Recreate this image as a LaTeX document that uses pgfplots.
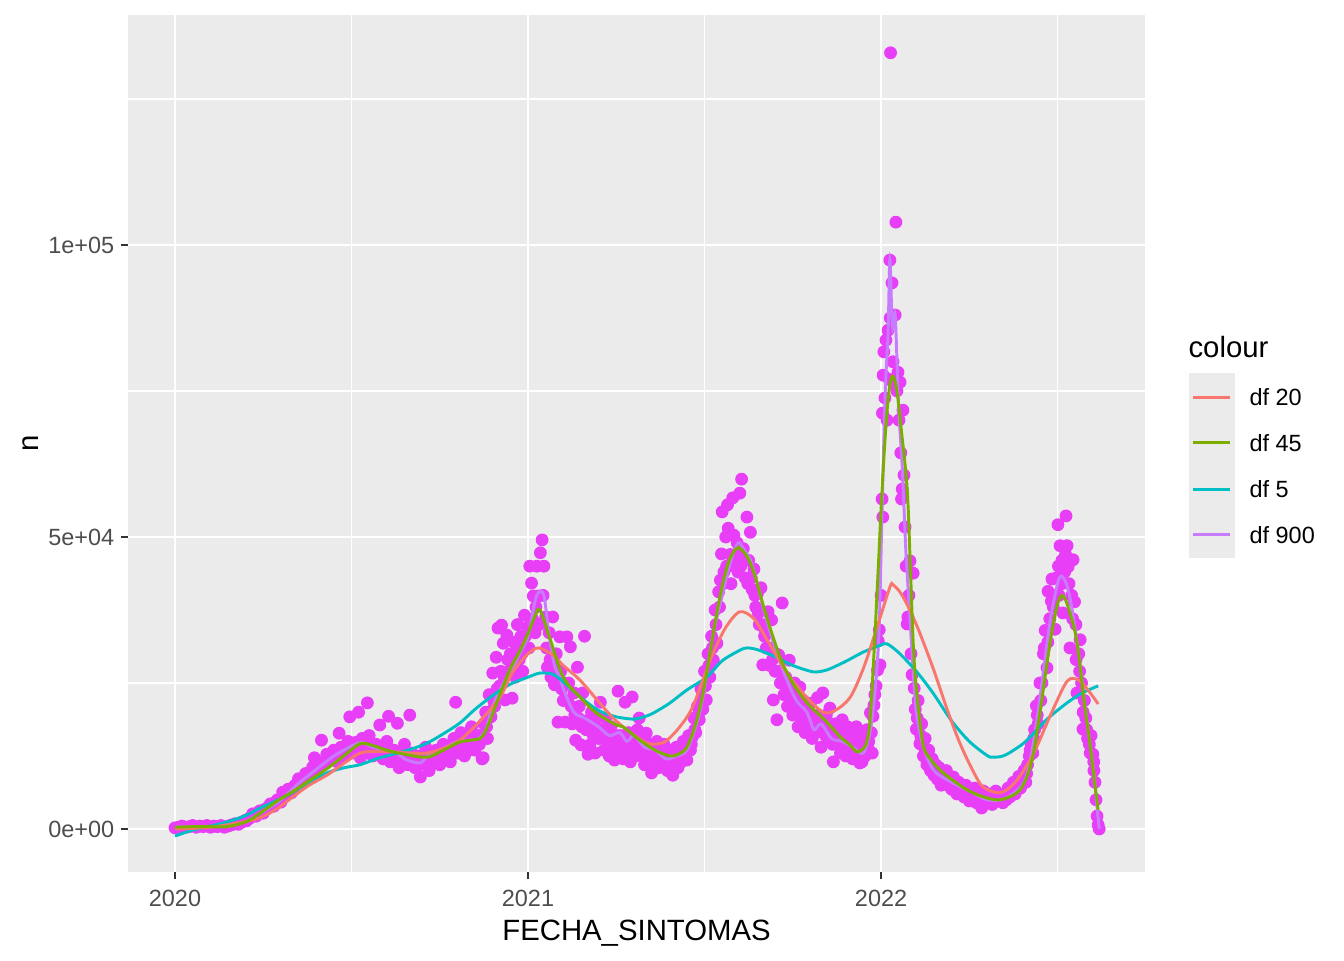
\documentclass[border=0pt]{standalone}
\usepackage{pgfplots}
\usepackage{pgfplotstable}
\pgfplotsset{compat=1.18}
\usepackage{fontspec}
\setmainfont{Liberation Sans}
\definecolor{panelbg}{HTML}{EBEBEB}
\definecolor{ticklab}{HTML}{4D4D4D}
\definecolor{tickcol}{HTML}{333333}
\definecolor{ptcol}{RGB}{232,62,247}
\definecolor{cRed}{HTML}{F8766D}
\definecolor{cGreen}{HTML}{7CAE00}
\definecolor{cTeal}{HTML}{00BFC4}
\definecolor{cPurple}{HTML}{C77CFF}
\pgfplotstableread{
t n
0 200
0.01 300
0.02 500
0.03 300
0.04 400
0.05 600
0.06 300
0.07 500
0.08 400
0.09 600
0.10 300
0.11 500
0.12 400
0.13 600
0.14 300
0.15 500
0.16 700
0.17 900
0.18 800
0.19 1200
0.20 1500
0.21 1800
0.22 2600
0.23 2200
0.24 3100
0.25 2700
0.26 3500
0.27 4300
0.28 3900
0.29 5000
0.30 4600
0.305 6300
0.31 5600
0.32 6800
0.33 6200
0.34 7500
0.35 8600
0.36 7900
0.37 9500
0.38 9000
0.39 10600
0.395 12200
0.40 10000
0.41 11500
0.415 15200
0.42 11000
0.43 12800
0.44 12000
0.45 13500
0.46 11500
0.465 16400
0.47 14000
0.48 12500
0.49 15000
0.495 19200
0.50 13000
0.51 14800
0.52 20000
0.525 12200
0.53 15500
0.54 13000
0.545 21600
0.55 16000
0.56 12500
0.57 14500
0.58 17800
0.59 12000
0.60 15000
0.605 19300
0.61 11500
0.62 13500
0.63 18100
0.635 10500
0.64 12500
0.65 14500
0.66 11000
0.665 19500
0.67 13000
0.68 10500
0.69 12500
0.695 8900
0.70 11500
0.71 14000
0.72 10000
0.73 12000
0.74 13500
0.75 11000
0.76 14500
0.77 12500
0.78 11500
0.79 15500
0.795 21700
0.80 13000
0.81 16500
0.82 12500
0.83 15000
0.84 17500
0.85 13500
0.86 16000
0.87 12000
0.873 12200
0.875 18000
0.88 20000
0.885 15500
0.89 23000
0.895 19200
0.90 26700
0.905 21000
0.91 29400
0.915 34400
0.92 24500
0.925 34900
0.93 31800
0.935 22100
0.94 33200
0.945 27000
0.95 30000
0.955 22400
0.96 32000
0.965 26000
0.97 35000
0.975 29000
0.98 33000
0.985 27000
0.99 36600
0.995 31000
1.00 34600
1.005 45000
1.01 42100
1.015 39900
1.02 33600
1.025 45000
1.03 39900
1.035 47300
1.04 49500
1.045 45000
1.05 36300
1.055 27700
1.06 33600
1.065 26000
1.07 36300
1.075 24700
1.08 30000
1.085 18300
1.09 32900
1.095 24000
1.10 22000
1.105 18300
1.11 32900
1.115 25000
1.12 31200
1.125 18000
1.13 23300
1.135 15200
1.14 27700
1.145 21000
1.15 14400
1.155 23300
1.16 33000
1.165 17000
1.17 12800
1.175 14400
1.18 20000
1.185 16000
1.19 13000
1.195 19200
1.20 15500
1.205 21700
1.21 17000
1.215 13500
1.22 19000
1.225 15000
1.23 12500
1.235 17500
1.24 14000
1.245 11800
1.25 16000
1.255 23600
1.26 13000
1.265 15500
1.27 12000
1.275 21700
1.28 13500
1.285 16500
1.29 11500
1.295 22600
1.30 15000
1.305 12500
1.31 17000
1.315 19000
1.32 13000
1.325 15500
1.33 11000
1.335 16400
1.34 12500
1.345 14500
1.35 9600
1.355 14000
1.36 11500
1.365 15000
1.37 10500
1.375 13000
1.38 11000
1.385 14500
1.39 12300
1.395 10000
1.40 13500
1.405 11500
1.41 9200
1.415 12500
1.42 14000
1.425 10500
1.43 13000
1.435 11500
1.44 15000
1.445 12500
1.45 11800
1.455 16000
1.46 13500
1.465 15700
1.47 19000
1.475 16500
1.48 21000
1.485 18700
1.49 24000
1.495 20500
1.50 27000
1.505 22100
1.51 30000
1.515 26000
1.52 33000
1.525 28900
1.53 37500
1.535 31800
1.54 40600
1.545 42600
1.548 47100
1.55 54300
1.555 44000
1.56 50000
1.565 55500
1.567 51500
1.57 45000
1.575 42000
1.58 56700
1.583 50300
1.59 47000
1.595 44000
1.60 57500
1.605 59900
1.61 48000
1.615 43000
1.62 53400
1.625 46000
1.63 50800
1.635 41000
1.64 44500
1.645 38000
1.65 40400
1.655 35000
1.66 41300
1.665 28100
1.67 33000
1.675 31000
1.68 37200
1.685 28000
1.69 35800
1.695 22100
1.70 27000
1.705 18700
1.71 29800
1.715 25000
1.72 38700
1.725 23000
1.73 26000
1.735 21000
1.74 28900
1.745 22500
1.75 19500
1.755 25000
1.76 21000
1.765 17500
1.77 24300
1.775 19000
1.78 22000
1.785 16500
1.79 20500
1.795 17500
1.80 21500
1.805 15500
1.81 19000
1.815 16500
1.82 22500
1.825 18000
1.83 14000
1.835 23300
1.84 17000
1.845 19500
1.85 15000
1.855 20700
1.86 16500
1.865 11500
1.87 18000
1.875 14500
1.88 17000
1.885 13000
1.89 18700
1.895 15500
1.90 12500
1.905 17500
1.91 14000
1.915 16500
1.92 12000
1.925 15000
1.93 17500
1.935 13000
1.94 11300
1.945 16000
1.946 11500
1.95 14000
1.955 12500
1.96 17000
1.963 13700
1.965 15000
1.97 19900
1.975 13000
1.977 19300
1.98 21200
1.986 24500
1.99 27200
1.992 32200
1.995 34100
1.997 28100
2.000 40000
2.003 56500
2.004 71200
2.005 53400
2.006 77700
2.008 81700
2.011 73800
2.014 83700
2.017 70000
2.020 85400
2.023 77000
2.025 97400
2.026 87500
2.027 132900
2.031 93500
2.034 80000
2.037 76000
2.040 88000
2.042 103900
2.045 75000
2.048 78200
2.051 70000
2.054 76500
2.056 64400
2.058 56500
2.060 58200
2.062 71700
2.065 60600
2.068 51700
2.071 45000
2.074 35100
2.076 36300
2.079 40000
2.082 45900
2.085 30000
2.088 26400
2.091 43800
2.094 24100
2.097 20500
2.10 17100
2.105 22000
2.11 14600
2.115 18000
2.12 12500
2.125 15500
2.13 11000
2.135 13500
2.14 10000
2.145 12000
2.15 9200
2.155 11000
2.16 8500
2.165 10500
2.17 7500
2.175 9500
2.18 8000
2.185 10000
2.19 7500
2.195 9000
2.20 6800
2.205 8900
2.21 7500
2.215 6000
2.22 8000
2.225 6500
2.23 7000
2.235 5500
2.24 7500
2.245 6000
2.25 4800
2.255 6500
2.26 5500
2.265 7000
2.27 4500
2.275 6000
2.28 5000
2.285 3600
2.29 6500
2.295 5000
2.30 4500
2.305 6000
2.31 5000
2.315 4200
2.32 5500
2.325 6500
2.33 4800
2.34 5800
2.345 4500
2.35 6000
2.355 5000
2.36 7000
2.365 5500
2.37 6500
2.375 8000
2.38 6000
2.385 7500
2.39 9000
2.395 7000
2.40 8500
2.405 10000
2.41 8000
2.415 11000
2.42 12500
2.425 14600
2.43 13000
2.435 17000
2.44 21100
2.445 18000
2.45 25000
2.456 25000
2.46 30000
2.465 34000
2.47 27600
2.473 40700
2.478 36000
2.484 42800
2.488 38000
2.493 34200
2.497 43000
2.501 52100
2.504 40000
2.507 48500
2.512 42000
2.515 37000
2.52 44000
2.524 53600
2.527 48500
2.53 44900
2.535 31000
2.54 40000
2.544 46100
2.548 38900
2.552 35000
2.555 23300
2.56 30000
2.564 32400
2.568 25000
2.572 17100
2.576 22000
2.58 19000
2.585 15500
2.59 14500
2.595 16000
2.60 12800
2.603 10000
2.606 8000
2.609 5000
2.612 2200
2.615 700
2.618 0
}\pts
\pgfplotstableread{
t n
0.2025 1400
0.2125 1900
0.2225 2300
0.2325 2700
0.2425 3000
0.2525 3300
0.2625 3700
0.2725 4000
0.2825 4500
0.2925 4900
0.3025 5300
0.3125 5900
0.3225 6400
0.3325 7000
0.3425 7400
0.3525 8000
0.3625 8500
0.3725 9000
0.3825 9600
0.3925 10000
0.4025 10500
0.4125 10800
0.4225 11500
0.4325 11800
0.4425 12500
0.4525 12800
0.4625 13500
0.4725 12800
0.4825 14000
0.4925 13500
0.5025 14500
0.5125 13000
0.5225 14000
0.5325 13500
0.5425 14500
0.5525 13000
0.5625 14000
0.5725 13000
0.5825 12500
0.5925 13500
0.6025 12500
0.6125 13000
0.6225 12000
0.6325 13000
0.6425 11500
0.6525 12500
0.6625 12000
0.6725 11500
0.6825 12500
0.6925 11000
0.7025 12500
0.7125 11500
0.7225 13000
0.7325 12500
0.7425 11500
0.7525 13000
0.7625 12000
0.7725 14000
0.7825 13000
0.7925 14000
0.8025 15000
0.8125 14000
0.8225 14500
0.8325 13500
0.8425 15500
0.8525 15000
0.8625 14500
0.8725 16000
0.8825 17500
0.8925 19500
0.9025 22000
0.9125 24000
0.9225 27000
0.9325 26000
0.9425 29000
0.9525 27000
0.9625 29000
0.9725 31000
0.9825 30000
0.9925 33000
1.0025 31000
1.0125 36000
1.0225 38000
1.0325 35000
1.0425 40000
1.0525 31000
1.0625 29000
1.0725 28000
1.0825 26000
1.0925 27000
1.1025 25000
1.1125 22000
1.1225 21000
1.1325 19500
1.1425 19000
1.1525 17500
1.1625 18500
1.1725 17000
1.1825 16500
1.1925 17500
1.2025 16500
1.2125 15500
1.2225 17000
1.2325 15000
1.2425 16000
1.2525 14500
1.2625 16000
1.2725 15000
1.2825 14500
1.2925 16000
1.3025 14000
1.3125 15500
1.3225 14500
1.3325 13500
1.3425 14000
1.3525 12500
1.3625 13000
1.3725 12000
1.3825 12500
1.3925 11500
1.4025 12000
1.4125 11000
1.4225 12000
1.4325 11500
1.4425 13000
1.4525 14000
1.4625 14500
1.4725 17000
1.4825 19500
1.4925 22000
1.5025 24500
1.5125 28000
1.5225 31000
1.5325 35000
1.5425 38000
1.5525 42000
1.5625 45000
1.5725 47000
1.5825 46000
1.5925 49000
1.6025 45000
1.6125 46000
1.6225 42000
1.6325 43000
1.6425 40000
1.6525 37000
1.6625 35000
1.6725 34000
1.6825 31000
1.6925 29000
1.7025 30000
1.7125 27000
1.7225 26000
1.7325 24000
1.7425 24500
1.7525 22500
1.7625 23000
1.7725 21000
1.7825 20000
1.7925 19000
1.8025 18500
1.8125 17500
1.8225 19500
1.8325 17000
1.8425 16000
1.8525 17500
1.8625 14500
1.8725 16000
1.8825 15000
1.8925 16500
1.9025 14500
1.9125 13500
1.9225 14500
1.9325 15500
1.9425 13500
1.9525 15500
1.9625 14500
1.9725 16500
1.9825 23000
2.1025 19000
2.1125 16000
2.1225 14000
2.1325 12500
2.1425 11500
2.1525 10500
2.1625 9500
2.1725 9000
2.1825 8500
2.1925 8500
2.2025 7800
2.2125 7000
2.2225 7200
2.2325 6500
2.2425 6800
2.2525 6000
2.2625 6200
2.2725 5500
2.2825 5800
2.2925 5200
2.3025 5400
2.3125 5000
2.3225 5200
2.3325 5500
2.3425 5000
2.3525 5500
2.3625 6000
2.3725 6500
2.3825 7000
2.3925 8000
2.4025 9000
2.4125 9500
2.4225 13500
2.4325 15500
2.4425 19500
2.4525 22000
2.4625 31000
2.4725 32000
2.4825 39000
2.4925 40000
2.5025 45000
2.5125 46000
2.5225 47000
2.5325 42000
2.5425 36000
2.5525 29000
2.5625 27000
2.5725 20000
2.5825 17000
2.5925 13000
2.6025 11500
}\ptsb
\begin{document}
\begin{tikzpicture}
\useasboundingbox (0,0) rectangle (504pt,360pt);
\begin{axis}[
  at={(48pt,33pt)}, anchor=south west,
  width=381.4pt, height=321.4pt, scale only axis,
  xmin=-0.1331, xmax=2.7479, ymin=-7363, ymax=139381,
  axis background/.style={fill=panelbg},
  axis line style={draw=none},
  grid=both,
  major grid style={white, line width=1.07pt},
  minor grid style={white, line width=0.53pt},
  xtick={0,1,2}, minor xtick={0.5,1.5,2.5},
  ytick={0,50000,100000}, minor ytick={25000,75000,125000},
  xticklabels={}, yticklabels={},
  scaled y ticks=false, scaled x ticks=false,
  tick pos=left, tick align=outside,
  major tick length=2.75pt, minor tick length=0pt,
  tick style={color=tickcol, line width=1.07pt},
  clip=true, clip marker paths=true,
]
\addplot[only marks, mark=*, color=ptcol, mark size=2.2pt] table[x=t, y=n] {\pts};
\addplot[only marks, mark=*, color=ptcol, mark size=2.2pt] table[x=t, y=n] {\ptsb};
\addplot[cPurple, line width=1.1pt, smooth, tension=0.5] coordinates {
(0,300) (0.1,400) (0.15,500) (0.2,1300) (0.25,3000) (0.3,5000) (0.35,7800) (0.4,10200) (0.45,12500) (0.5,14200) (0.53,14800) (0.56,14000) (0.6,13400) (0.63,13000) (0.65,12000) (0.694,11300) (0.72,12800) (0.76,13800) (0.8,15000) (0.83,15200) (0.86,15500) (0.88,17000) (0.9,21000) (0.93,25000) (0.96,28000) (0.98,30500) (1.0,33000) (1.02,39000) (1.03,40500) (1.045,40000) (1.06,33000) (1.075,28000) (1.09,26000) (1.1,24000) (1.13,20000) (1.16,19000) (1.2,17500) (1.23,16000) (1.26,16500) (1.28,15000) (1.3,16000) (1.33,14000) (1.36,13500) (1.39,12000) (1.42,12500) (1.45,13500) (1.48,18500) (1.5,24000) (1.52,32000) (1.55,40000) (1.575,46000) (1.595,49000) (1.61,48000) (1.63,46000) (1.65,42000) (1.67,37000) (1.7,31000) (1.73,26000) (1.76,22000) (1.79,20000) (1.81,17000) (1.83,18000) (1.86,15500) (1.89,15000) (1.92,14000) (1.95,13000) (1.97,17000) (1.985,25000) (1.995,35000) (2.003,55000) (2.012,75000) (2.02,85000) (2.025,97500) (2.032,86000) (2.04,88000) (2.05,72000) (2.06,62000) (2.07,48000) (2.08,38000) (2.09,28000) (2.1,20000) (2.12,14000) (2.15,10000) (2.2,8000) (2.25,6500) (2.3,5000) (2.35,5200) (2.4,7500) (2.42,11000) (2.44,18000) (2.46,27000) (2.48,36000) (2.5,42000) (2.51,43300) (2.525,42000) (2.54,38000) (2.56,30000) (2.58,20000) (2.6,11000) (2.61,5000) (2.618,0)
};
\addplot[cTeal, line width=1.1pt, smooth] coordinates {
(0,-1200) (0.05,-200) (0.1,500) (0.147,1200) (0.2,2300) (0.241,3600) (0.3,5200) (0.334,6300) (0.38,8000) (0.43,9600) (0.48,10500) (0.524,11000) (0.57,12000) (0.618,12800) (0.67,13700) (0.714,14700) (0.76,16300) (0.807,18150) (0.85,20500) (0.901,22900) (0.95,24800) (1.0,26000) (1.034,26700) (1.07,26500) (1.1,25200) (1.15,22500) (1.2,20300) (1.25,19200) (1.3,18800) (1.317,19000) (1.35,19700) (1.4,21500) (1.45,23800) (1.507,26030) (1.55,28800) (1.6,30600) (1.62,31000) (1.65,30700) (1.7,29500) (1.75,28000) (1.8,27000) (1.819,26900) (1.85,27300) (1.9,28700) (1.95,30300) (2.0,31500) (2.017,31700) (2.05,30200) (2.1,27000) (2.147,23300) (2.2,18500) (2.25,15000) (2.3,12600) (2.317,12300) (2.35,12600) (2.4,14500) (2.431,16300) (2.47,18800) (2.527,21600) (2.57,23300) (2.615,24500)
};
\addplot[cRed, line width=1.1pt, smooth] coordinates {
(0,0) (0.05,100) (0.1,300) (0.147,700) (0.2,1300) (0.241,1900) (0.29,3500) (0.334,5500) (0.38,7500) (0.43,9200) (0.48,11300) (0.524,13000) (0.57,13300) (0.618,13200) (0.67,13000) (0.714,13000) (0.76,13800) (0.807,15200) (0.864,18500) (0.92,22500) (0.958,27000) (1.0,30000) (1.03,31000) (1.07,29800) (1.1,28000) (1.147,25500) (1.2,21800) (1.241,19000) (1.29,16500) (1.337,14700) (1.37,14600) (1.394,15200) (1.43,17500) (1.467,21000) (1.52,29500) (1.56,34500) (1.6,37200) (1.64,36000) (1.677,32400) (1.71,29000) (1.742,26000) (1.79,22500) (1.836,20000) (1.87,20300) (1.912,22500) (1.95,27500) (1.989,34600) (2.025,41400) (2.034,41800) (2.06,40000) (2.1,35000) (2.147,27600) (2.19,20000) (2.224,14600) (2.26,10000) (2.289,7200) (2.337,6200) (2.38,8000) (2.431,12800) (2.48,19500) (2.527,25300) (2.56,25500) (2.59,23500) (2.615,21400)
};
\addplot[cGreen, line width=1.1pt, smooth, tension=0.55] coordinates {
(0,300) (0.05,400) (0.1,400) (0.147,400) (0.2,1200) (0.241,2700) (0.29,4800) (0.334,6400) (0.38,8300) (0.43,10300) (0.48,12600) (0.524,14600) (0.56,14300) (0.6,13500) (0.65,12800) (0.714,12300) (0.76,13500) (0.807,14900) (0.85,15300) (0.87,15800) (0.892,18500) (0.92,23000) (0.95,27500) (0.977,30500) (1.0,33500) (1.02,36500) (1.034,37500) (1.06,33000) (1.1,26000) (1.147,22600) (1.19,20000) (1.224,18700) (1.25,17800) (1.269,17500) (1.29,16500) (1.317,15200) (1.36,13500) (1.402,12500) (1.425,12800) (1.45,14000) (1.475,18000) (1.496,23300) (1.515,30000) (1.535,37000) (1.552,42100) (1.57,46000) (1.592,48100) (1.61,47500) (1.63,45500) (1.649,42100) (1.67,37500) (1.694,32900) (1.72,28500) (1.75,25000) (1.79,21600) (1.84,18700) (1.884,15800) (1.91,14500) (1.932,13200) (1.95,13800) (1.96,15000) (1.969,18800) (1.98,30000) (1.99,42000) (2.003,58200) (2.015,70000) (2.025,76000) (2.034,77500) (2.045,75000) (2.058,68000) (2.074,58200) (2.083,45000) (2.091,32000) (2.1,24000) (2.119,14500) (2.14,12000) (2.167,10100) (2.2,8500) (2.244,6700) (2.29,5500) (2.337,5000) (2.385,6200) (2.41,8500) (2.431,12800) (2.455,22000) (2.479,32000) (2.5,38500) (2.516,39900) (2.535,37000) (2.555,32000) (2.575,22000) (2.592,14500) (2.605,8000) (2.615,3300)
};
\end{axis}
% tick labels
\begin{scope}[every node/.style={inner sep=0pt, text=ticklab, font=\fontsize{8.8}{10}\selectfont}]
\node[anchor=base] at (65.62pt,20.25pt) {2020};
\node[anchor=base] at (198.0pt,20.25pt) {2021};
\node[anchor=base] at (330.4pt,20.25pt) {2022};
\node[anchor=east] at (43.05pt,49.1pt) {0e+00};
\node[anchor=east] at (43.05pt,158.6pt) {5e+04};
\node[anchor=east] at (43.05pt,268.1pt) {1e+05};
\end{scope}
% axis titles
\node[anchor=base, inner sep=0pt, font=\fontsize{11}{13}\selectfont] at (238.7pt,7.3pt) {FECHA\_SINTOMAS};
\node[anchor=base, rotate=90, inner sep=0pt, font=\fontsize{11}{13}\selectfont] at (14.5pt,193.7pt) {n};
% legend
\node[anchor=base west, inner sep=0pt, font=\fontsize{11}{13}\selectfont] at (445.5pt,226.1pt) {colour};
\fill[panelbg] (445.9pt,150.75pt) rectangle (463.1pt,220.1pt);
\draw[cRed, line width=1.1pt] (447.4pt,211.1pt) -- (461.3pt,211.1pt);
\draw[cGreen, line width=1.1pt] (447.4pt,193.9pt) -- (461.3pt,193.9pt);
\draw[cTeal, line width=1.1pt] (447.4pt,176.6pt) -- (461.3pt,176.6pt);
\draw[cPurple, line width=1.1pt] (447.4pt,159.4pt) -- (461.3pt,159.4pt);
\begin{scope}[every node/.style={inner sep=0pt, anchor=west, font=\fontsize{8.8}{10}\selectfont}]
\node at (468.4pt,211.1pt) {df 20};
\node at (468.4pt,193.9pt) {df 45};
\node at (468.4pt,176.6pt) {df 5};
\node at (468.4pt,159.4pt) {df 900};
\end{scope}
\end{tikzpicture}
\end{document}
